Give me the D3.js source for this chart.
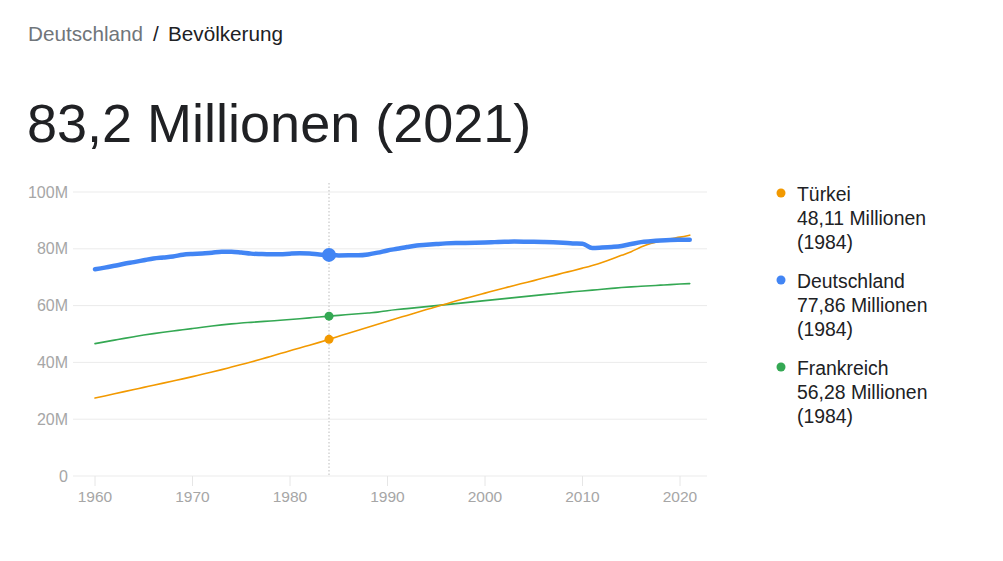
<!DOCTYPE html>
<html><head><meta charset="utf-8">
<script src="https://cdn.jsdelivr.net/npm/d3@7"></script>
<style>
html,body{margin:0;padding:0;background:#fff;}
svg{display:block;font-family:"Liberation Sans",Arial,sans-serif;}
</style></head>
<body>
<svg id="c" width="1003" height="561"></svg>
<script>
const years = d3.range(1960, 2022);
const turkei = [27.47,28.2,28.95,29.7,30.45,31.2,31.95,32.7,33.45,34.2,
  35.0,35.8,36.6,37.45,38.35,39.25,40.15,41.1,42.1,43.1,
  44.1,45.1,46.05,47.05,48.11,49.2,50.3,51.35,52.4,53.45,
  54.5,55.55,56.55,57.6,58.6,59.6,60.6,61.6,62.55,63.5,
  64.4,65.3,66.2,67.1,67.95,68.8,69.7,70.55,71.45,72.3,
  73.2,74.15,75.2,76.4,77.7,79.0,80.6,81.9,82.8,83.5,
  84.1,84.8];
const deutschland = [72.81,73.38,74.03,74.71,75.32,75.96,76.6,76.95,77.29,77.91,
  78.17,78.31,78.62,78.94,78.97,78.67,78.3,78.16,78.08,78.08,
  78.29,78.41,78.33,78.01,77.86,77.68,77.69,77.72,78.03,78.64,
  79.43,80.01,80.62,81.16,81.42,81.68,81.91,82.03,82.05,82.1,
  82.21,82.35,82.49,82.53,82.52,82.47,82.38,82.27,82.11,81.9,
  81.78,80.27,80.43,80.65,80.98,81.69,82.35,82.66,82.91,83.09,
  83.16,83.2];
const frankreich = [46.62,47.24,47.85,48.46,49.05,49.62,50.14,50.62,51.06,51.48,
  51.92,52.37,52.8,53.2,53.56,53.87,54.11,54.35,54.59,54.82,
  55.09,55.39,55.69,55.99,56.28,56.57,56.85,57.13,57.42,57.71,
  58.2,58.6,58.95,59.3,59.65,60.0,60.35,60.7,61.05,61.4,
  61.75,62.1,62.45,62.8,63.15,63.5,63.85,64.2,64.55,64.85,
  65.15,65.45,65.75,66.05,66.35,66.6,66.8,67.0,67.2,67.4,
  67.58,67.75];
const yTicks = [0,20,40,60,80,100];
const yTickLabels = ["0","20M","40M","60M","80M","100M"];
const xTicks = [1960,1970,1980,1990,2000,2010,2020];
const series = [
  {name:"Türkei", values:turkei, color:"#f29900", width:1.6, r:4.5, label:"48,11 Millionen"},
  {name:"Deutschland", values:deutschland, color:"#4285f4", width:4.5, r:7, label:"77,86 Millionen"},
  {name:"Frankreich", values:frankreich, color:"#34a853", width:1.6, r:4.5, label:"56,28 Millionen"}
];
const hoverYear = 1984;

const svg = d3.select("#c");
svg.append("rect").attr("width",1003).attr("height",561).attr("fill","#fff");

// header
svg.append("text").attr("x",28).attr("y",41).attr("font-size",20.7).attr("fill","#70757a").text("Deutschland");
svg.append("text").attr("x",153).attr("y",41).attr("font-size",20.7).attr("fill","#202124").text("/");
svg.append("text").attr("x",168).attr("y",41).attr("font-size",20.7).attr("fill","#202124").text("Bevölkerung");
svg.append("text").attr("x",27).attr("y",142).attr("font-size",54).attr("fill","#202124")
  .text("83,2 Millionen (2021)");

const x = d3.scaleLinear().domain([1960,2020]).range([95,680]);
const y = d3.scaleLinear().domain([0,100]).range([476,192]);
const gridX0 = 73, gridX1 = 707;

// grid
const g = svg.append("g");
g.selectAll("line.grid").data(yTicks).join("line")
  .attr("x1",gridX0).attr("x2",gridX1)
  .attr("y1",d=>y(d)).attr("y2",d=>y(d))
  .attr("stroke","#ebebeb").attr("stroke-width",1);
g.selectAll("text.yl").data(yTicks).join("text")
  .attr("x",68).attr("y",d=>y(d)+5.5)
  .attr("text-anchor","end").attr("font-size",16).attr("fill","#a6a6a6")
  .text((d,i)=>yTickLabels[i]);
// x ticks
g.selectAll("line.xt").data(xTicks).join("line")
  .attr("x1",d=>x(d)).attr("x2",d=>x(d)).attr("y1",476).attr("y2",486)
  .attr("stroke","#e6e6e6").attr("stroke-width",1);
g.selectAll("text.xl").data(xTicks).join("text")
  .attr("x",d=>x(d)).attr("y",502)
  .attr("text-anchor","middle").attr("font-size",15.5).attr("fill","#a6a6a6")
  .text(d=>d);

// hover line
svg.append("line").attr("x1",x(hoverYear)).attr("x2",x(hoverYear))
  .attr("y1",183).attr("y2",476).attr("stroke","#bdbdbd").attr("stroke-width",1)
  .attr("stroke-dasharray","1.5,2");

const line = d3.line().x((d,i)=>x(years[i])).y(d=>y(d)).curve(d3.curveMonotoneX);
const order = [2,0,1];
order.forEach(k=>{
  const s = series[k];
  svg.append("path").attr("d",line(s.values)).attr("fill","none")
    .attr("stroke",s.color).attr("stroke-width",s.width)
    .attr("stroke-linecap","round").attr("stroke-linejoin","round");
});
order.forEach(k=>{
  const s = series[k];
  const idx = years.indexOf(hoverYear);
  svg.append("circle").attr("cx",x(hoverYear)).attr("cy",y(s.values[idx]))
    .attr("r",s.r).attr("fill",s.color);
});

// legend
series.forEach((s,i)=>{
  const top = 201 + i*87;
  svg.append("circle").attr("cx",781).attr("cy",top-8).attr("r",4.5).attr("fill",s.color);
  const t = svg.append("text").attr("x",797).attr("y",top).attr("font-size",19.4).attr("fill","#202124");
  t.append("tspan").attr("x",797).attr("dy",0).text(s.name);
  t.append("tspan").attr("x",797).attr("dy",24).text(s.label);
  t.append("tspan").attr("x",797).attr("dy",24).text("(" + hoverYear + ")");
});
</script>
</body></html>
